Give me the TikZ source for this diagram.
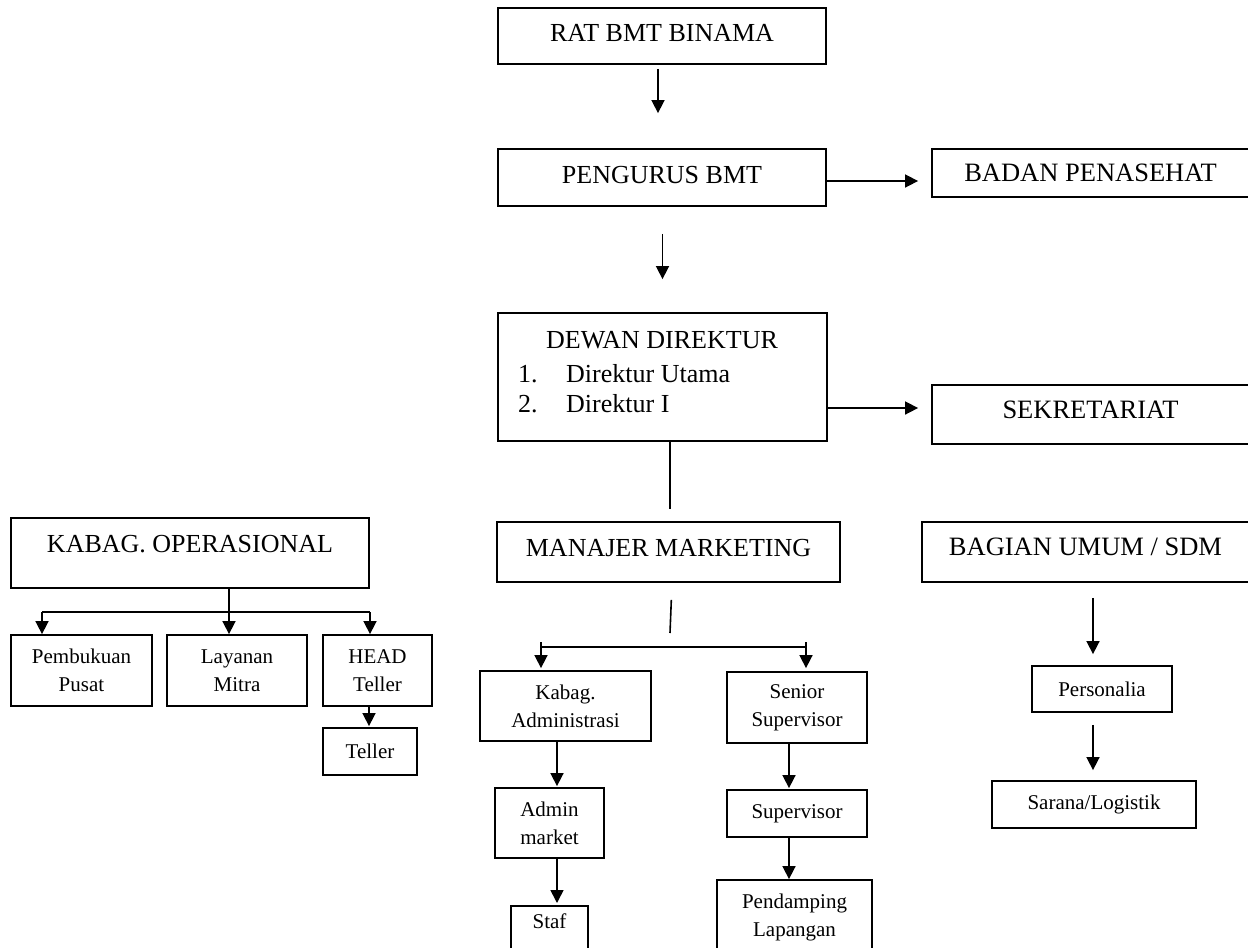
\documentclass[tikz,border=0pt]{standalone}
\usepackage{fontspec}
\setmainfont{Liberation Serif}
\usetikzlibrary{arrows.meta}

\begin{document}
\begin{tikzpicture}[x=1pt, y=-1pt, every node/.style={inner sep=0pt},
    bigtext/.style={font=\fontsize{26}{31}\selectfont},
    sidetext/.style={font=\fontsize{26.5}{31}\selectfont},
    bigbox/.style={draw, line width=1.8pt, bigtext, text depth=6pt},
    smallbox/.style={draw, line width=1.8pt, align=center, font=\fontsize{21}{28}\selectfont},
    arr/.style={line width=1.6pt, -{Triangle[length=13pt,width=13pt]}},
    conn/.style={line width=1.6pt}]
    \useasboundingbox (0,0) rectangle (1248,948);

    % Top of the structure
    \node[bigbox, minimum width=328pt, minimum height=56pt] (rat) at (662,36) {RAT BMT BINAMA};
    \node[bigbox, minimum width=328pt, minimum height=57pt] (pengurus) at (662,177.5) {PENGURUS BMT};
    \node[bigbox, sidetext, text depth=0pt, minimum width=317pt, minimum height=48pt] (badan) at (1090.5,173) {BADAN PENASEHAT};

    % Directors box with its list
    \node[bigbox, minimum width=329pt, minimum height=128pt] (dewan) at (662.5,377) {};
    \node[bigtext, anchor=base] (dewanT) at (662,348) {DEWAN DIREKTUR};
    \node[bigtext, anchor=base west] (dirNo1) at (518,382) {1.};
    \node[bigtext, anchor=base west] (dir1) at (566,382) {Direktur Utama};
    \node[bigtext, anchor=base west] (dirNo2) at (518,412) {2.};
    \node[bigtext, anchor=base west] (dir2) at (566,412) {Direktur I};
    \node[bigbox, sidetext, text depth=9pt, minimum width=317pt, minimum height=59pt] (sekre) at (1090.5,414.5) {SEKRETARIAT};

    % Second level
    \node[bigbox, text depth=18pt, minimum width=358pt, minimum height=70pt] (kabagops) at (190,553) {KABAG. OPERASIONAL};
    \node[bigbox, text depth=8pt, minimum width=343pt, minimum height=60pt] (manajer) at (668.5,552) {MANAJER MARKETING};
    \node[bigbox, sidetext, text depth=10pt, minimum width=327pt, minimum height=60pt] (bagian) at (1085.5,552) {BAGIAN UMUM / SDM};

    % Operasional branch
    \node[smallbox, minimum width=141pt, minimum height=71pt] (pembukuan) at (81.5,670.5) {Pembukuan\\Pusat};
    \node[smallbox, minimum width=140pt, minimum height=71pt] (layanan) at (237,670.5) {Layanan\\Mitra};
    \node[smallbox, minimum width=109pt, minimum height=71pt] (headteller) at (377.5,670.5) {HEAD\\Teller};
    \node[smallbox, minimum width=94pt, minimum height=47pt] (teller) at (370,751.5) {Teller};

    % Marketing branch
    \node[smallbox, minimum width=171pt, minimum height=70pt] (kabagadm) at (565.5,706) {Kabag.\\Administrasi};
    \node[smallbox, minimum width=109pt, minimum height=70pt] (adminmkt) at (549.5,823) {Admin\\market};
    \node[smallbox, anchor=north, minimum width=77pt, inner ysep=8pt, text depth=40pt] (staf) at (549.5,905) {Staf};
    \node[smallbox, minimum width=140pt, minimum height=71pt] (senior) at (797,707.5) {Senior\\Supervisor};
    \node[smallbox, minimum width=140pt, minimum height=47pt] (supervisor) at (797,813.5) {Supervisor};
    \node[smallbox, minimum width=155pt, minimum height=75pt] (pendamping) at (794.5,917.5) {Pendamping\\Lapangan};

    % Umum / SDM branch
    \node[smallbox, minimum width=140pt, minimum height=46pt] (personalia) at (1102,689) {Personalia};
    \node[smallbox, minimum width=204pt, minimum height=47pt] (sarana) at (1094,804.5) {Sarana/Logistik};

    % Main line
    \draw[arr, shorten <=4pt, shorten >=35pt] ([xshift=-4pt]rat.south) -- ([xshift=-4pt]pengurus.north);
    \draw[arr, shorten >=13pt] ([yshift=-3.5pt]pengurus.east) -- ([yshift=-3.5pt]pengurus.east -| badan.west);
    \draw[arr, shorten <=27pt, shorten >=33pt] ([xshift=0.5pt]pengurus.south) -- ([xshift=0.5pt]pengurus.south |- dewan.north);
    \draw[arr, shorten >=13pt] ([yshift=-31pt]dewan.east) -- ([yshift=-31pt]dewan.east -| sekre.west);
    \draw[conn, shorten >=12pt] ([xshift=7.5pt]dewan.south) -- ([xshift=7.5pt]dewan.south |- manajer.north);

    % Operasional arrows
    \coordinate (obar) at (229,612);
    \coordinate (obarL) at (42,612);
    \coordinate (obarR) at (370,612);
    \draw[conn] ([xshift=39pt]kabagops.south) -- (obar);
    \draw[conn] (obarL) -- (obarR);
    \draw[arr] (obarL) -- (obarL |- pembukuan.north);
    \draw[arr] (obar) -- (obar |- layanan.north);
    \draw[arr] (obarR) -- (obarR |- headteller.north);
    \draw[arr, shorten >=1pt] ([xshift=-8.5pt]headteller.south) -- ([xshift=-8.5pt]headteller.south |- teller.north);

    % Marketing arrows
    \coordinate (mtick) at (670,633);
    \coordinate (mbarL) at (541,647);
    \coordinate (mbarR) at (806,647);
    \draw[conn, shorten <=17pt] ([xshift=3.5pt]manajer.south) -- (mtick);
    \draw[conn] (mbarL) -- (mbarR);
    \draw[arr, shorten >=2pt] ([yshift=5pt]mbarL) -- (mbarL |- kabagadm.north);
    \draw[arr, shorten >=3pt] ([yshift=5pt]mbarR) -- (mbarR |- senior.north);
    \draw[arr, shorten >=1pt] ([xshift=-8.5pt]kabagadm.south) -- ([xshift=-8.5pt]kabagadm.south |- adminmkt.north);
    \draw[arr, shorten >=2pt] ([xshift=7.5pt]adminmkt.south) -- ([xshift=7.5pt]adminmkt.south |- staf.north);
    \draw[arr, shorten >=1pt] ([xshift=-8pt]senior.south) -- ([xshift=-8pt]senior.south |- supervisor.north);
    \draw[arr] ([xshift=-8pt]supervisor.south) -- ([xshift=-8pt]supervisor.south |- pendamping.north);

    % Umum / SDM arrows
    \draw[arr, shorten <=15pt, shorten >=11pt] ([xshift=7.5pt]bagian.south) -- ([xshift=7.5pt]bagian.south |- personalia.north);
    \draw[arr, shorten <=12pt, shorten >=10pt] ([xshift=-9pt]personalia.south) -- ([xshift=-9pt]personalia.south |- sarana.north);
\end{tikzpicture}
\end{document}
